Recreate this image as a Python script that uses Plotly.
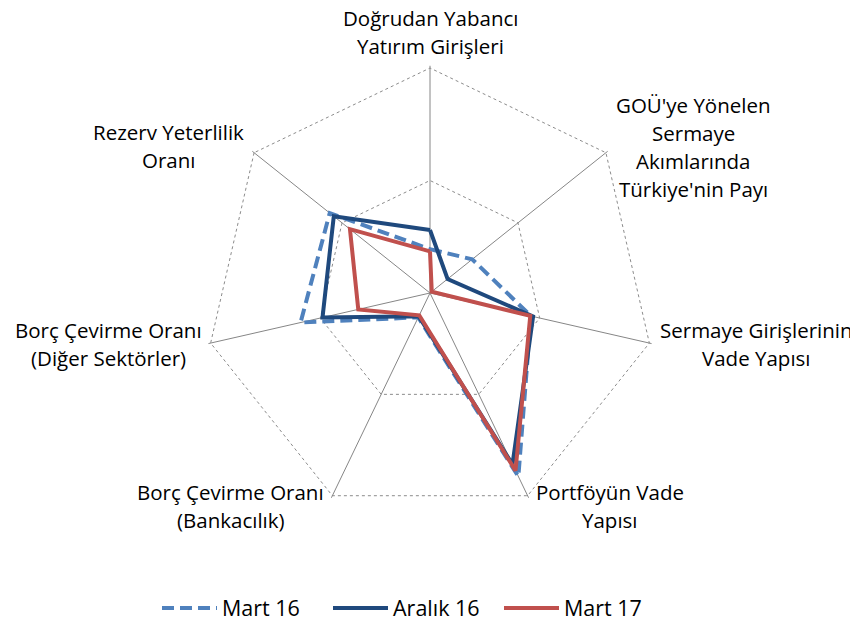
import plotly.graph_objects as go

# The page body has an 8px default margin: the figure starts at screen (8, 8)
# and fills the window to its right/bottom edges. Pixel positions below are
# given in screen pixels and converted.
OFF = 8
W, H = 858 - OFF, 628 - OFF

categories = [
    "Doğrudan Yabancı<br>Yatırım Girişleri",
    "GOÜ'ye Yönelen<br>Sermaye<br>Akımlarında<br>Türkiye'nin Payı",
    "Sermaye Girişlerinin<br>Vade Yapısı",
    "Portföyün Vade<br>Yapısı",
    "Borç Çevirme Oranı<br>(Bankacılık)",
    "Borç Çevirme Oranı<br>(Diğer Sektörler)",
    "Rezerv Yeterlilik<br>Oranı",
]

mart16 = [0.195, 0.24, 0.46, 0.905, 0.12, 0.59, 0.57]
aralik16 = [0.28, 0.10, 0.47, 0.845, 0.115, 0.49, 0.547]
mart17 = [0.185, 0.01, 0.457, 0.876, 0.11, 0.327, 0.455]

series_names = ["Mart 16", "Aralık 16", "Mart 17"]

# label block centres (screen pixels)
label_px = [(430, 32), (693, 147), (756, 344), (610, 506), (231, 506), (108, 344), (168, 146)]
LINE_GAP = 28

FONT = "Open Sans"
FS = 20.5
FS_LEG = 21.5

fig = go.Figure()

def closed(v):
    return v + v[:1]

theta = closed(categories)

fig.add_trace(go.Scatterpolar(
    r=closed(mart16), theta=theta, mode="lines", name=series_names[0],
    line=dict(color="#4F81BD", width=4, dash="12px,6px"),
))
fig.add_trace(go.Scatterpolar(
    r=closed(aralik16), theta=theta, mode="lines", name=series_names[1],
    line=dict(color="#1F497D", width=4),
))
fig.add_trace(go.Scatterpolar(
    r=closed(mart17), theta=theta, mode="lines", name=series_names[2],
    line=dict(color="#C0504D", width=4),
))

RMAX = 1.01
cx, cy, R = 430 - OFF, 293 - OFF, 225 * RMAX
dom_x = [(cx - R) / W, (cx + R) / W]
dom_y = [1 - (cy + R) / H, 1 - (cy - R) / H]

fig.update_layout(
    width=W, height=H,
    margin=dict(l=0, r=0, t=0, b=0, autoexpand=False),
    paper_bgcolor="white",
    plot_bgcolor="white",
    font=dict(family=FONT, size=FS, color="black"),
    polar=dict(
        domain=dict(x=dom_x, y=dom_y),
        gridshape="linear",
        bgcolor="white",
        radialaxis=dict(
            range=[0, RMAX], tickvals=[0.5, 1], showticklabels=False,
            ticks="", showline=False, gridcolor="#8c8c8c", gridwidth=1,
            griddash="dot",
        ),
        angularaxis=dict(
            rotation=90, direction="clockwise", showticklabels=False,
            ticks="", showline=False, gridcolor="#868686", gridwidth=1,
        ),
    ),
    showlegend=True,
    legend=dict(
        orientation="h", x=(157 - OFF) / W, xanchor="left",
        y=1 - (608 - OFF) / H, yanchor="middle",
        font=dict(family=FONT, size=FS_LEG, color="black"),
        itemwidth=55, entrywidth=101, entrywidthmode="pixels",
    ),
)

for txt, (px, py) in zip(categories, label_px):
    lines = txt.split("<br>")
    n = len(lines)
    for i, ln in enumerate(lines):
        ly = py + (i - (n - 1) / 2) * LINE_GAP
        fig.add_annotation(
            text=ln, x=(px - OFF) / W, y=1 - (ly - OFF) / H,
            xref="paper", yref="paper",
            xanchor="center", yanchor="middle", showarrow=False, align="center",
            borderpad=0,
            font=dict(family=FONT, size=FS, color="black"),
        )

fig.write_html("out.html")
